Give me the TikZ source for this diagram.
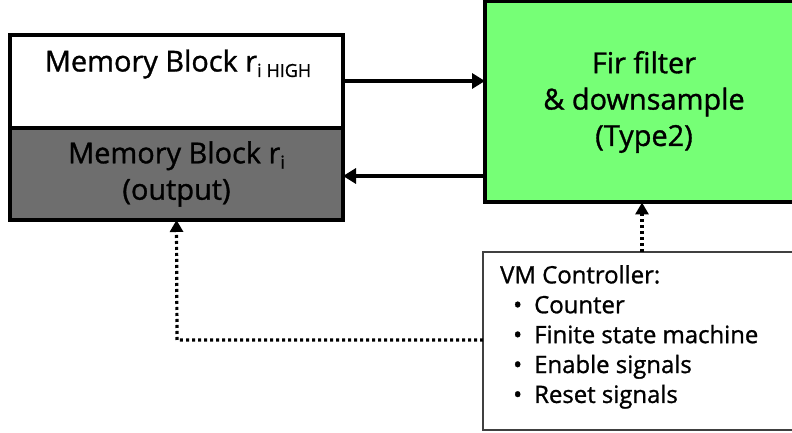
\documentclass[tikz,border=0pt]{standalone}
\usepackage{fontspec}
\setmainfont{Open Sans}
\newfontfamily\diagfont{Open Sans}[FakeBold=1.1]
\usetikzlibrary{arrows.meta}
\definecolor{firgreen}{RGB}{118,255,118}
\definecolor{memgray}{RGB}{110,110,110}
\tikzset{
  blockbox/.style={draw=black, line width=4bp, rectangle, inner sep=0pt, outer sep=0pt},
  boxtext/.style={font=\diagfont\fontsize{29}{36.5}\selectfont, align=center, inner sep=0pt},
  ctrltext/.style={font=\diagfont\fontsize{24}{30}\selectfont, align=left, inner sep=0pt, anchor=north west},
  solidarrow/.style={line width=3.5bp, -{Triangle[length=13bp,width=15bp]}},
  dotarrow/.style={line width=3.2bp, dash pattern=on 3bp off 3bp, -{Triangle[length=12bp,width=13bp]}}
}
\newcommand{\subtxt}[1]{\raisebox{-0.35ex}{\fontsize{18}{20}\selectfont #1}}
\newcommand{\bulitem}[1]{\hspace*{13bp}\makebox[21bp][l]{\textbullet}#1}
\begin{document}
\begin{tikzpicture}[x=1bp,y=-1bp]
\useasboundingbox (0,0) rectangle (792,433);
% memory blocks
\node[blockbox, fill=white, minimum width=333bp, minimum height=93bp] (mhigh) at (176.5,81.5) {};
\node[boxtext] (mhightext) at (178,64) {Memory Block r\subtxt{i\hspace{5bp}HIGH}};
\node[blockbox, fill=memgray, minimum width=333bp, minimum height=92bp, boxtext] (mout) at (176.5,174) {Memory Block r\subtxt{i}\\(output)};
% fir filter
\node[blockbox, fill=firgreen, minimum width=318bp, minimum height=201bp, boxtext] (fir) at (644,102) {Fir filter\\\& downsample\\(Type2)};
% controller
\node[draw=black!75, line width=1.2bp, rectangle, minimum width=330bp, minimum height=178bp, inner sep=0pt, outer sep=0pt, anchor=north west] (ctrl) at (483,252) {};
\node[ctrltext] (ctrltxt) at (500,265) {VM Controller:\\
\bulitem{Counter}\\
\bulitem{Finite state machine}\\
\bulitem{Enable signals}\\
\bulitem{Reset signals}};
% connectors
\draw[solidarrow] (mhigh.east |- 0,81) -- (fir.west |- 0,81);
\draw[solidarrow] (fir.west |- 0,176) -- (mout.east |- 0,176);
\draw[dotarrow] (ctrl.north -| 642,0) -- (fir.south -| 642,0);
\coordinate (corner) at (177,340);
\draw[dotarrow] (ctrl.west |- 0,340) -- (corner) -- (mout.south);
\end{tikzpicture}
\end{document}
